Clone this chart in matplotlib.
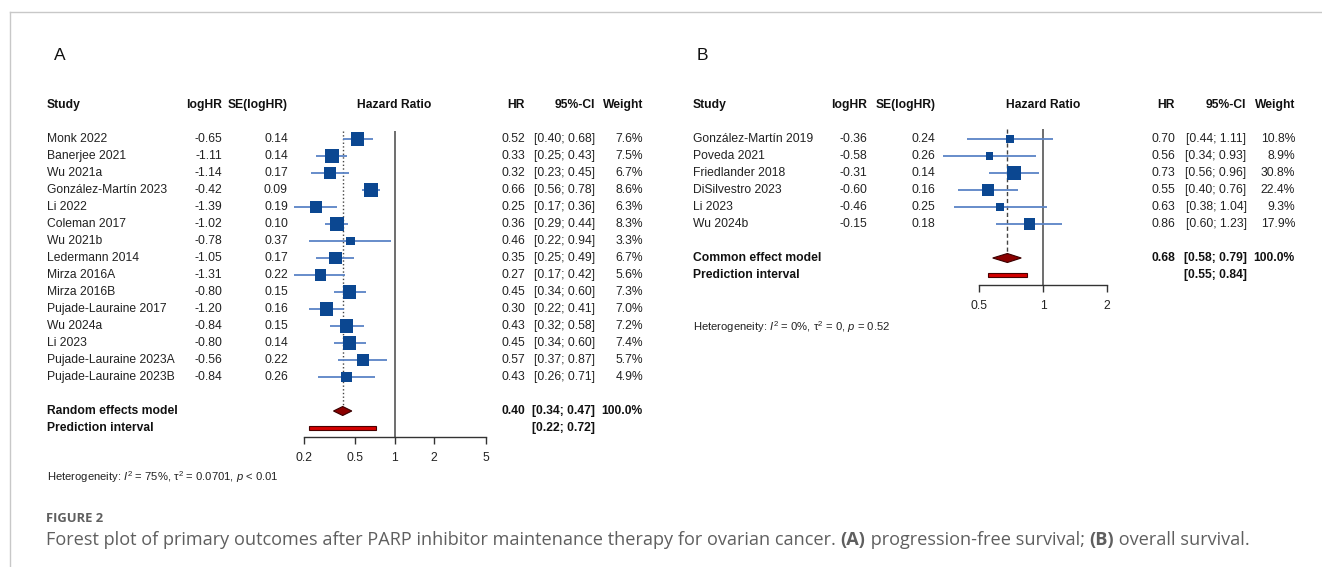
import matplotlib
matplotlib.use("Agg")
import matplotlib.pyplot as plt
import matplotlib.transforms as mtransforms
from matplotlib.lines import Line2D
import numpy as np

plt.rcParams['font.family'] = ['Liberation Sans', 'DejaVu Sans']
plt.rcParams['mathtext.fontset'] = 'custom'
plt.rcParams['mathtext.rm'] = 'Liberation Sans'
plt.rcParams['mathtext.it'] = 'Liberation Sans:italic'

# ---- panel A: progression-free survival
studies_a = ["Monk 2022", "Banerjee 2021", "Wu 2021a", "González-Martín 2023", "Li 2022",
             "Coleman 2017", "Wu 2021b", "Ledermann 2014", "Mirza 2016A", "Mirza 2016B",
             "Pujade-Lauraine 2017", "Wu 2024a", "Li 2023", "Pujade-Lauraine 2023A",
             "Pujade-Lauraine 2023B"]
loghr_a = [-0.65, -1.11, -1.14, -0.42, -1.39, -1.02, -0.78, -1.05, -1.31, -0.80, -1.20, -0.84, -0.80, -0.56, -0.84]
se_a = [0.14, 0.14, 0.17, 0.09, 0.19, 0.10, 0.37, 0.17, 0.22, 0.15, 0.16, 0.15, 0.14, 0.22, 0.26]
hr_a = [0.52, 0.33, 0.32, 0.66, 0.25, 0.36, 0.46, 0.35, 0.27, 0.45, 0.30, 0.43, 0.45, 0.57, 0.43]
lo_a = [0.40, 0.25, 0.23, 0.56, 0.17, 0.29, 0.22, 0.25, 0.17, 0.34, 0.22, 0.32, 0.34, 0.37, 0.26]
hi_a = [0.68, 0.43, 0.45, 0.78, 0.36, 0.44, 0.94, 0.49, 0.42, 0.60, 0.41, 0.58, 0.60, 0.87, 0.71]
wt_a = [7.6, 7.5, 6.7, 8.6, 6.3, 8.3, 3.3, 6.7, 5.6, 7.3, 7.0, 7.2, 7.4, 5.7, 4.9]
pooled_a = [0.40, 0.34, 0.47]
pred_a = [0.22, 0.72]
ticks_a = [0.2, 0.5, 1, 2, 5]
het_a = r"Heterogeneity: $I^2$ = 75%, τ$^2$ = 0.0701, $p$ < 0.01"

# ---- panel B: overall survival
studies_b = ["González-Martín 2019", "Poveda 2021", "Friedlander 2018", "DiSilvestro 2023",
             "Li 2023", "Wu 2024b"]
loghr_b = [-0.36, -0.58, -0.31, -0.60, -0.46, -0.15]
se_b = [0.24, 0.26, 0.14, 0.16, 0.25, 0.18]
hr_b = [0.70, 0.56, 0.73, 0.55, 0.63, 0.86]
lo_b = [0.44, 0.34, 0.56, 0.40, 0.38, 0.60]
hi_b = [1.11, 0.93, 0.96, 0.76, 1.04, 1.23]
wt_b = [10.8, 8.9, 30.8, 22.4, 9.3, 17.9]
pooled_b = [0.68, 0.58, 0.79]
pred_b = [0.55, 0.84]
ticks_b = [0.5, 1, 2]
het_b = r"Heterogeneity: $I^2$ = 0%, τ$^2$ = 0, $p$ = 0.52"

W, H = 1322, 567
Y0, DY = 139, 17.0
FS = 8.7
SQ = '#0b4791'
CI = '#5b84c6'

fig = plt.figure(figsize=(W / 100, H / 100), dpi=100)
fig.patch.set_facecolor('white')
pxT = mtransforms.Affine2D().scale(1.0 / W, 1.0 / H) + fig.transFigure


def row_of(ypx):
    return (ypx - Y0) / DY


def tick_fmt(v):
    return ("%g" % v)


def forest(letter, lx, studies, loghr, se, hr, lo, hi, wt, pooled, pred, ticks,
           model_name, model_row, het, cols, ax_x, ytop, ybot, het_y, refls):
    x0, x1 = ax_x
    ax = fig.add_axes([x0 / W, 1 - ybot / H, (x1 - x0) / W, (ybot - ytop) / H])
    ax.set_xscale('log')
    ax.set_xlim(ticks[0], ticks[-1])
    ax.set_ylim(row_of(ybot), row_of(ytop))
    ax.patch.set_alpha(0)
    for s in ['left', 'right', 'top']:
        ax.spines[s].set_visible(False)
    ax.spines['bottom'].set_color('#333333')
    ax.spines['bottom'].set_linewidth(1.0)
    ax.set_yticks([])
    ax.xaxis.set_minor_locator(matplotlib.ticker.NullLocator())
    ax.set_xticks(ticks)
    ax.set_xticklabels([tick_fmt(t) for t in ticks])
    ax.tick_params(axis='x', direction='out', length=5, width=1.0, color='#333333',
                   pad=6, labelsize=FS, labelcolor='#222222')

    tr = mtransforms.blended_transform_factory(pxT, ax.transData)
    c_study, c_log, c_se, c_hr, c_ci, c_wt = cols
    # x pixel of HR = 1 (header is centred over the null line)
    x_null = x0 + (x1 - x0) * (0 - np.log10(ticks[0])) / (np.log10(ticks[-1]) - np.log10(ticks[0]))

    fig.text(lx / W, 1 - 56 / H, letter, fontsize=12.5, va='center', ha='left', color='#111111')

    hrow = row_of(105)
    hd = dict(transform=tr, fontsize=FS, fontweight='bold', va='center', color='#111111')
    ax.text(c_study, hrow, "Study", ha='left', **hd)
    ax.text(c_log, hrow, "logHR", ha='right', **hd)
    ax.text(c_se, hrow, "SE(logHR)", ha='right', **hd)
    ax.text(x_null, hrow, "Hazard Ratio", ha='center', **hd)
    ax.text(c_hr, hrow, "HR", ha='right', **hd)
    ax.text(c_ci, hrow, "95%-CI", ha='right', **hd)
    ax.text(c_wt, hrow, "Weight", ha='right', **hd)

    td = dict(transform=tr, fontsize=FS, va='center', color='#222222')
    rows = np.arange(len(studies))
    for r, name, lg, s, h, l, u, w in zip(rows, studies, loghr, se, hr, lo, hi, wt):
        ax.text(c_study, r, name, ha='left', **td)
        ax.text(c_log, r, "%.2f" % lg, ha='right', **td)
        ax.text(c_se, r, "%.2f" % s, ha='right', **td)
        ax.text(c_hr, r, "%.2f" % h, ha='right', **td)
        ax.text(c_ci, r, "[%.2f; %.2f]" % (l, u), ha='right', **td)
        ax.text(c_wt, r, "%.1f%%" % w, ha='right', **td)

    # CIs and squares
    ax.hlines(rows, lo, hi, color=CI, lw=1.3, zorder=2, clip_on=False)
    wmax = max(wt)
    side = 14.5 * np.sqrt(np.array(wt) / wmax)
    ax.scatter(hr, rows, marker='s', s=(side * 0.72) ** 2, color=SQ, linewidths=0,
               zorder=3, clip_on=False)

    # reference lines
    ax.axvline(1, color='#555555', lw=1.2, zorder=1)
    ax.plot([pooled[0], pooled[0]], [row_of(ytop), model_row], ls=refls, color='#444444',
            lw=1.0, zorder=1)

    # pooled diamond
    dh = 4.5 / DY
    est, plo, phi = pooled
    ax.fill([plo, est, phi, est], [model_row, model_row - dh, model_row, model_row + dh],
            facecolor='#8b0000', edgecolor='#3a0000', lw=0.8, zorder=4, clip_on=False)
    # prediction interval
    ph = 2.3 / DY
    pr = model_row + 1
    ax.fill([pred[0], pred[1], pred[1], pred[0]], [pr - ph, pr - ph, pr + ph, pr + ph],
            facecolor='#d40000', edgecolor='#4a0000', lw=0.8, zorder=4, clip_on=False)

    bd = dict(transform=tr, fontsize=FS, fontweight='bold', va='center', color='#111111')
    ax.text(c_study, model_row, model_name, ha='left', **bd)
    ax.text(c_hr, model_row, "%.2f" % est, ha='right', **bd)
    ax.text(c_ci, model_row, "[%.2f; %.2f]" % (plo, phi), ha='right', **bd)
    ax.text(c_wt, model_row, "100.0%", ha='right', **bd)
    ax.text(c_study, pr, "Prediction interval", ha='left', **bd)
    ax.text(c_ci, pr, "[%.2f; %.2f]" % (pred[0], pred[1]), ha='right', **bd)

    fig.text(c_study / W, 1 - het_y / H, het, fontsize=8.1, ha='left', va='center',
             color='#222222')
    return ax


forest("A", 54, studies_a, loghr_a, se_a, hr_a, lo_a, hi_a, wt_a, pooled_a, pred_a, ticks_a,
       "Random effects model", 16, het_a, (47, 222, 288, 525, 595, 643),
       (303.5, 485.5), 131, 437, 477, ':')
forest("B", 697, studies_b, loghr_b, se_b, hr_b, lo_b, hi_b, wt_b, pooled_b, pred_b, ticks_b,
       "Common effect model", 7, het_b, (693, 867, 935.5, 1175, 1246.5, 1295),
       (979, 1107), 129, 285, 327, (0, (3, 2)))

# frame lines
fig.add_artist(Line2D([9.5 / W, 1], [1 - 11.5 / H, 1 - 11.5 / H], transform=fig.transFigure,
                      color='#c8c8c8', lw=1.0))
fig.add_artist(Line2D([9.5 / W, 9.5 / W], [0, 1 - 11.5 / H], transform=fig.transFigure,
                      color='#c8c8c8', lw=1.0))

# caption
cap_col = '#5f5f5f'
fig.text(46 / W, 1 - 518 / H, "FIGURE 2", fontsize=9.4, family='Open Sans', fontweight='bold',
         color=cap_col, ha='left', va='center')
parts = [("Forest plot of primary outcomes after PARP inhibitor maintenance therapy for ovarian cancer. ", 'normal'),
         ("(A)", 'bold'), (" progression-free survival; ", 'normal'), ("(B)", 'bold'),
         (" overall survival.", 'normal')]
renderer = fig.canvas.get_renderer()
xc = 46.0
for txt, wgt in parts:
    t = fig.text(xc / W, 1 - 540 / H, txt, fontsize=13.1, family='Open Sans', fontweight=wgt,
                 color=cap_col, ha='left', va='center')
    bb = t.get_window_extent(renderer=renderer)
    xc += bb.width

fig.savefig("out.png", dpi=100, facecolor='white')
